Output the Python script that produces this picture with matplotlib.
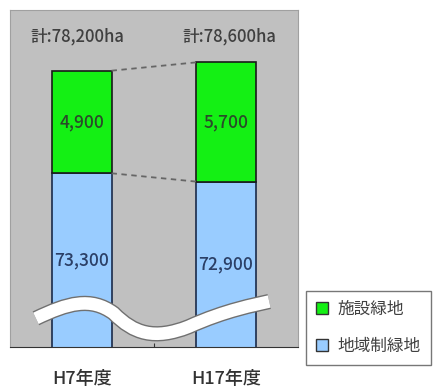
import matplotlib.pyplot as plt
from matplotlib.path import Path
from matplotlib.patches import PathPatch

plt.rcParams['font.family'] = ['Noto Sans CJK JP', 'DejaVu Sans']

# データ
years = ['H7年度', 'H17年度']
chiiki = [73300, 72900]   # 地域制緑地
shisetsu = [4900, 5700]   # 施設緑地
totals = ['計:78,200ha', '計:78,600ha']

fig = plt.figure(figsize=(4.41, 3.89), dpi=100)
ax = fig.add_axes([10/441, 42/389, 288/441, 337/389])
ax.set_facecolor('#c0c0c0')

x = [0, 1]
w = 0.41
ax.bar(x, chiiki, w, color='#99ccff', edgecolor='#1a2a4a', linewidth=1.2, zorder=2)
ax.bar(x, shisetsu, w, bottom=chiiki, color='#14f014', edgecolor='#1a1a1a', linewidth=1.2, zorder=2)
ax.set_xlim(-0.5, 1.5)
ax.set_ylim(65000, 81100)

# 破線
tops = [c + s for c, s in zip(chiiki, shisetsu)]
ax.plot([x[0] + w/2, x[1] - w/2], tops, ls=(0, (3, 2.5)), color='#666666', lw=1.3, zorder=3)
ax.plot([x[0] + w/2, x[1] - w/2], chiiki, ls=(0, (3, 2.5)), color='#666666', lw=1.3, zorder=3)

# ラベル
offs = [-0.03, 0.02]
for i in x:
    ax.text(i, (65000 + chiiki[i]) / 2, f'{chiiki[i]:,}', ha='center', va='center',
            fontsize=12.5, weight='medium', color='#2b3f66', zorder=4)
    ax.text(i, chiiki[i] + shisetsu[i] / 2, f'{shisetsu[i]:,}', ha='center', va='center',
            fontsize=12.5, weight='medium', color='#2a4a2a', zorder=4)
    ax.text(i + offs[i], 81100 - 1250, totals[i], ha='center', va='center',
            fontsize=12, weight='medium', color='#404040')

# 波線 (省略記号)
verts = [(0.09, 0.085), (0.2, 0.13), (0.28, 0.15), (0.36, 0.1),
         (0.43, 0.04), (0.5, 0.02), (0.62, 0.06),
         (0.75, 0.11), (0.85, 0.125), (0.90, 0.135)]
codes = [Path.MOVETO] + [Path.CURVE4] * 9
path = Path(verts, codes)
ax.add_patch(PathPatch(path, fc='none', ec='#707070', lw=11, transform=ax.transAxes, zorder=5))
ax.add_patch(PathPatch(path, fc='none', ec='white', lw=9, transform=ax.transAxes, zorder=6))

ax.set_yticks([])
ax.set_xticks([0.5])
ax.set_xticklabels([''])
ax.tick_params(axis='x', length=3, direction='in', color='#333333')
for s in ['top', 'right', 'left']:
    ax.spines[s].set_color('#a0a0a0')
ax.spines['bottom'].set_color('#333333')

for i in x:
    ax.text(i, -0.095, years[i], transform=ax.get_xaxis_transform(), ha='center', va='center',
            fontsize=13, weight='medium', color='#333333')

# 凡例
handles = [plt.Rectangle((0, 0), 1, 1, fc='#14f014', ec='#333333'),
           plt.Rectangle((0, 0), 1, 1, fc='#99ccff', ec='#333333')]
fig.legend(handles, ['施設緑地', '地域制緑地'], loc='upper left',
           bbox_to_anchor=(306/441, 1 - 291/389), fontsize=12, frameon=True,
           fancybox=False, edgecolor='#555555', handlelength=0.7, handleheight=0.7,
           labelcolor='#404040', borderpad=0.6, labelspacing=1.2, handletextpad=0.6,
           borderaxespad=0)

fig.savefig('out.png', dpi=100)
